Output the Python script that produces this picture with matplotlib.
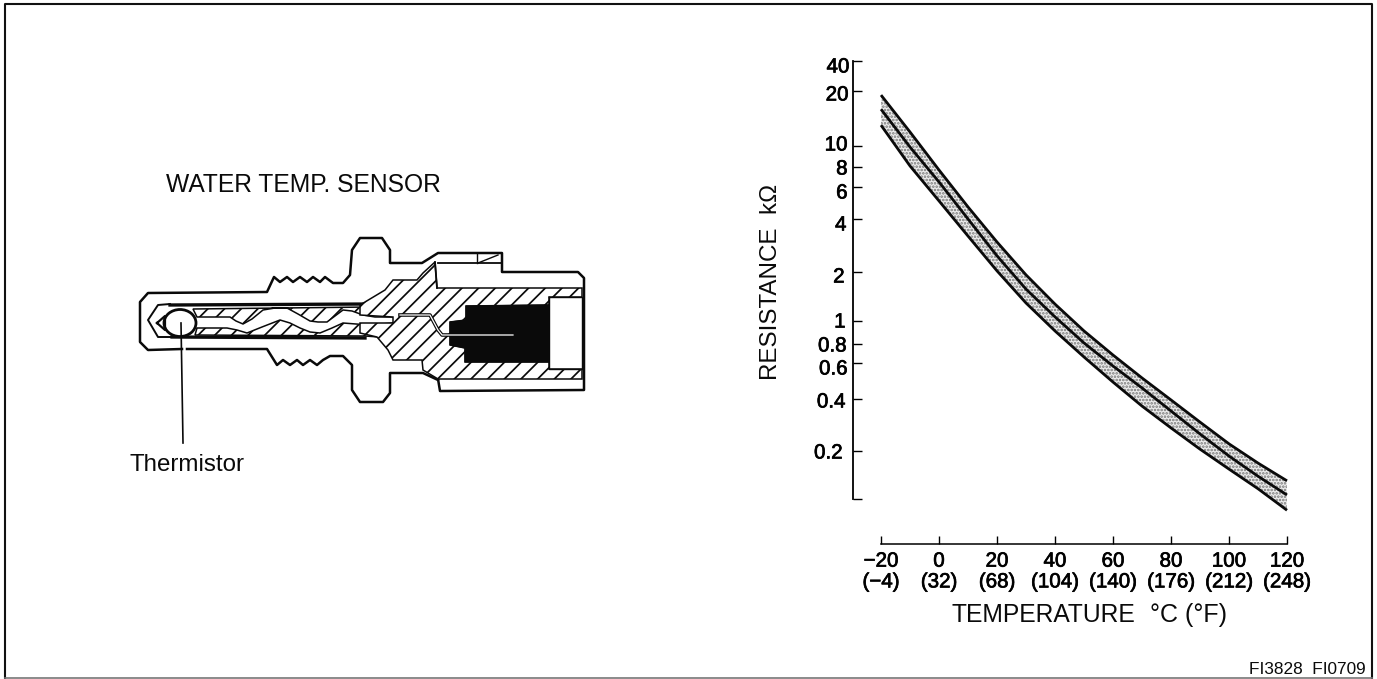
import numpy as np
import matplotlib
matplotlib.use("Agg")
import matplotlib.pyplot as plt
from matplotlib.patches import Polygon, Ellipse
from matplotlib.ticker import NullLocator
from matplotlib.transforms import Affine2D
import matplotlib.patheffects as pe

W, H = 1377, 679
plt.rcParams['font.family'] = ['Liberation Sans', 'DejaVu Sans']
plt.rcParams['hatch.linewidth'] = 1.25

# ---- data ----
temps_c = [-20, -10, 0, 10, 20, 30, 40, 50, 60, 70, 80, 90, 100, 110, 120]
upper_k = [19.0, 11.93, 7.66, 4.66, 2.96, 1.92, 1.27, 0.908, 0.677, 0.507, 0.395, 0.294, 0.220, 0.168, 0.130]
middle_k = [15.9, 9.89, 6.45, 4.0, 2.47, 1.57, 1.06, 0.808, 0.580, 0.453, 0.341, 0.251, 0.186, 0.139, 0.106]
lower_k = [13.0, 8.09, 5.03, 3.20, 2.03, 1.29, 0.908, 0.657, 0.484, 0.364, 0.272, 0.205, 0.154, 0.116, 0.0841]

x_ticks = [-20, 0, 20, 40, 60, 80, 100, 120]
x_tick_labels = ['\u221220\n(\u22124)', '0\n(32)', '20\n(68)', '40\n(104)', '60\n(140)',
                 '80\n(176)', '100\n(212)', '120\n(248)']
y_ticks = [0.1, 0.2, 0.4, 0.6, 0.8, 1, 2, 4, 6, 8, 10, 20, 40]
y_tick_labels = ['', '0.2', '0.4', '0.6', '0.8', '1', '2', '4', '6', '8', '10', '20', '40']

# The printed resistance scale is hand-ruled; this table is where each value sits on it.
scale_v = np.log10([0.05, 0.1, 0.2, 0.4, 0.6, 0.8, 1, 2, 4, 6, 8, 10, 20, 40])
scale_p = -np.array([544, 499, 451, 399, 363, 344, 321, 272, 219, 187, 167, 146, 91, 61], float)

# hand-set label offsets on the printed scale (px right, px down)
y_label_shift = [(0, 0), (-7, 0), (-4, 1), (-2, 4), (-3, 0), (-4, -1), (-5, 3), (-3, 4),
                 (-2, 4), (-2, 0), (-2, -3), (-1, 2), (0, 4)]

def forward(v):
    return np.interp(np.log10(np.maximum(v, 1e-6)), scale_v, scale_p)

def inverse(u):
    return 10 ** np.interp(u, scale_p, scale_v)

fig = plt.figure(figsize=(W / 100, H / 100), dpi=100, facecolor='white')

# ---- chart ----
L, R, T, B = 853, 1295, 61, 544
ax = fig.add_axes([L / W, 1 - B / H, (R - L) / W, (B - T) / H], zorder=3)
ax.patch.set_visible(False)
ax.set_yscale('function', functions=(forward, inverse))
ax.set_ylim(0.05, 40)
ax.set_xlim(-29.66, 122.76)

ax.fill_between(temps_c, lower_k, upper_k, facecolor='#ececec', edgecolor='#777777',
                hatch='.....', linewidth=0)
for series in (upper_k, middle_k, lower_k):
    ax.plot(temps_c, series, color='#0a0a0a', lw=2.0, solid_capstyle='butt', solid_joinstyle='round')

for s in ('top', 'right'):
    ax.spines[s].set_visible(False)
ax.spines['left'].set_bounds(0.1, 40)
ax.spines['bottom'].set_bounds(-20, 120)
ax.spines['left'].set_linewidth(1.3)
ax.spines['bottom'].set_linewidth(1.1)

ax.set_yticks(y_ticks)
ax.set_yticklabels(y_tick_labels)
ax.yaxis.set_minor_locator(NullLocator())
ax.set_xticks(x_ticks)
ax.set_xticklabels(x_tick_labels, linespacing=1.12)
ax.tick_params(axis='y', direction='in', length=6.5, width=1.0, pad=2.5, labelsize=14.8)
ax.tick_params(axis='x', direction='in', length=5.5, width=1.0, pad=5.5, labelsize=14.8)
for t in ax.get_xticklabels() + ax.get_yticklabels():
    t.set_path_effects([pe.withStroke(linewidth=0.5, foreground='black')])
for t, (dx, dy) in zip(ax.get_yticklabels(), y_label_shift):
    t.set_transform(t.get_transform() + Affine2D().translate(dx, -dy))

# ---- page overlay: frame, illustration, captions ----
pg = fig.add_axes([0, 0, 1, 1], zorder=1)
pg.set_xlim(0, W)
pg.set_ylim(H, 0)
pg.axis('off')

pg.plot([5, 5, 1372, 1372], [678, 4, 4, 678], color='#111111', lw=1.5)
pg.plot([5, 1372], [677.5, 677.5], color='#777777', lw=1.2)

K = '#0a0a0a'
def line(pts, lw=1.8, color=K, **kw):
    xs, ys = zip(*pts)
    pg.plot(xs, ys, color=color, lw=lw, solid_joinstyle='round', **kw)

def hatched(pts, z=2):
    pg.add_patch(Polygon(pts, closed=True, facecolor='white', edgecolor=K, hatch='//', lw=1.1, zorder=z))

# outer housing
line([(182, 349), (148, 350), (140, 342), (140, 302), (148, 293), (267, 292), (274, 277),
      (280, 282), (287, 277), (293, 282), (300, 277), (307, 282), (313, 277), (320, 282),
      (325, 277), (333, 283), (343, 283), (350, 275), (352, 250), (360, 238), (382, 238),
      (390, 250), (390, 263), (422, 263), (438, 253), (502, 253), (502, 272), (578, 272),
      (584, 278), (584, 390), (440, 391), (438, 379)])
line([(187, 349), (267, 349), (277, 365), (283, 360), (290, 365), (297, 360), (303, 365),
      (310, 360), (317, 365), (323, 360), (330, 356), (343, 356), (352, 365), (352, 390),
      (360, 402), (383, 402), (390, 393), (390, 373), (423, 373), (438, 380)])

# inner sleeve
line([(170, 304), (158, 305), (148, 320), (158, 337), (172, 337)], lw=1.4)
line([(170, 305), (370, 304)], lw=2.4)
line([(172, 337), (365, 338)], lw=2.4)

# hatched insulator strips round the wire
hatched([(193, 309), (370, 307), (393, 300), (393, 317), (375, 317), (363, 315), (352, 311),
         (343, 310), (335, 316), (327, 322), (318, 322), (310, 321), (298, 314), (287, 308),
         (275, 308), (263, 310), (252, 319), (243, 324), (236, 321), (230, 317), (197, 317)])
hatched([(195, 335), (197, 328), (227, 328), (237, 330), (247, 333), (262, 327), (280, 320),
         (290, 323), (300, 328), (310, 332), (320, 333), (332, 328), (343, 323), (356, 324),
         (370, 325), (393, 323), (393, 338), (365, 336)])

# main body
hatched([(360, 305), (385, 290), (393, 280), (417, 280), (423, 273), (435, 262), (437, 288),
         (582, 288), (582, 297), (549, 297), (549, 305), (466, 306), (466, 320), (450, 322),
         (450, 345), (465, 348), (465, 362), (549, 362), (549, 369), (582, 369), (582, 379),
         (438, 379), (423, 370), (422, 360), (393, 360), (388, 350), (377, 337), (360, 333),
         (360, 323), (393, 323), (393, 317), (360, 315)])

# potting compound and socket
pg.add_patch(Polygon([(466, 306), (549, 305), (549, 362), (465, 362), (465, 348), (450, 345),
                      (450, 322), (466, 320)], closed=True, facecolor=K, edgecolor=K, lw=0.8, zorder=3))
line([(549, 297), (582, 297), (582, 369), (549, 369), (549, 297)], lw=1.0, zorder=3)

# connector pin
line([(400, 315), (430, 315), (438, 330), (442, 335), (513, 335)], lw=2.6, zorder=4)
line([(400, 315), (430, 315), (438, 330), (442, 335), (513, 335)], lw=0.9, color='white', zorder=5)

# latch window
line([(438, 263), (502, 263)], lw=1.3)
line([(477, 254), (477, 263)], lw=1.0)
line([(478, 263), (498, 255)], lw=1.0)
line([(435, 262), (437, 288)], lw=1.3)

# thermistor bead
pg.add_patch(Ellipse((180, 323), 32, 27, facecolor='white', edgecolor=K, lw=2.0, zorder=6))
line([(157, 323), (165, 316), (165, 330), (157, 323)], lw=1.6, zorder=6)
line([(181, 323), (183, 443)], lw=1.2, zorder=7)

# captions
pg.text(166, 185, 'WATER TEMP. SENSOR', fontsize=17.7, va='center', ha='left', color=K)
pg.text(130, 465, 'Thermistor', fontsize=17.4, va='center', ha='left', color=K)
pg.text(771, 282, 'RESISTANCE  k\u03a9', fontsize=17.4, rotation=90, va='center', ha='center', color=K)
pg.text(951, 615, 'TEMPERATURE', fontsize=17.7, va='center', ha='left', color=K)
pg.text(1150, 615, '\u00b0C (\u00b0F)', fontsize=18, va='center', ha='left', color=K)
pg.text(1366, 670, 'FI3828  FI0709', fontsize=12.4, va='center', ha='right', color=K)

fig.savefig('out.png', dpi=100)
